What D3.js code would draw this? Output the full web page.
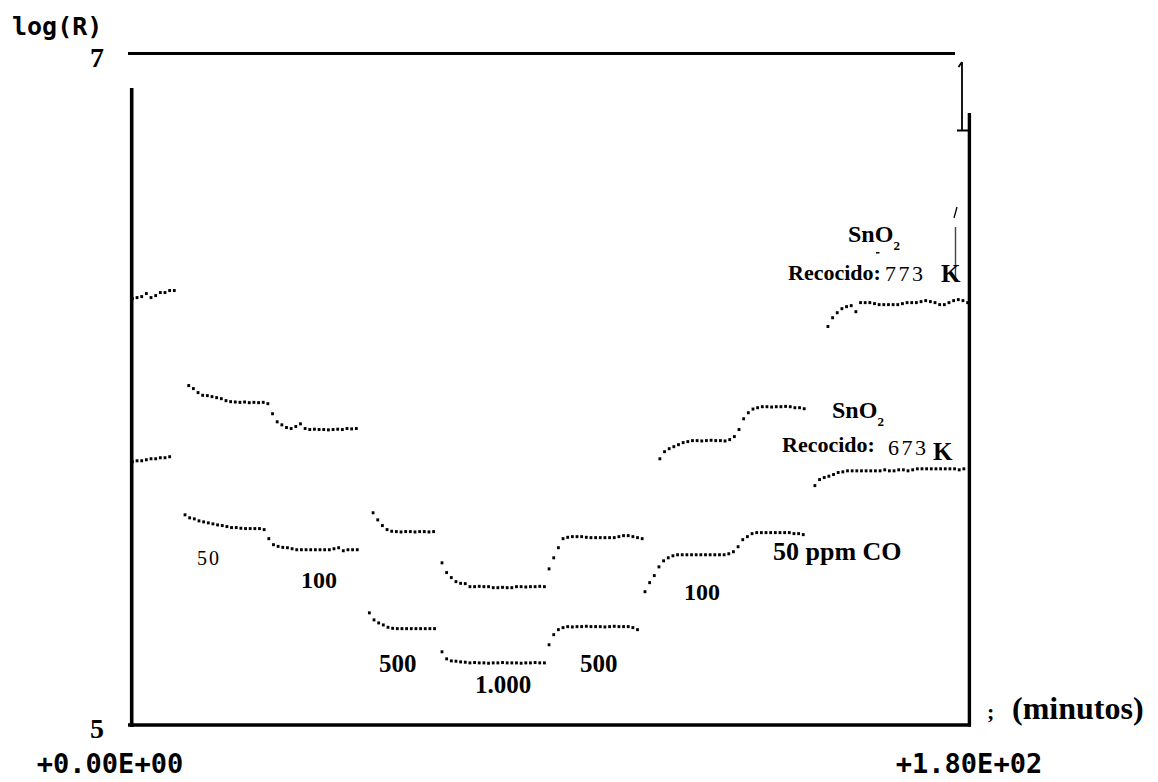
<!DOCTYPE html>
<html>
<head>
<meta charset="utf-8">
<script src="https://cdn.jsdelivr.net/npm/d3@7"></script>
<style>
  html, body { margin: 0; padding: 0; background: #fff; }
  svg { display: block; }
</style>
</head>
<body>
<svg id="chart" width="1158" height="782"></svg>
<script>
// Resistance response, log(R), of SnO2 films to CO pulses; readings every minute.
const sampleStep = 1; // minutes between readings

// Film annealed at 773 K: start time (min) of each recorded stretch
const start773 = [0.3, 12.4, 52.0, 66.8, 113.6, 149.7];
const logR773_air0 = [6.270, 6.273, 6.276, 6.285, 6.273, 6.279, 6.288, 6.288, 6.294, 6.294];
const logR773_co50_100 = [6.011, 6.002, 5.990, 5.982, 5.981, 5.978, 5.975, 5.972, 5.966, 5.963,
  5.962, 5.961, 5.962, 5.960, 5.961, 5.960, 5.961, 5.957, 5.927, 5.903,
  5.894, 5.886, 5.883, 5.889, 5.897, 5.883, 5.880, 5.881, 5.880, 5.880,
  5.879, 5.880, 5.881, 5.880, 5.883, 5.882, 5.883];
const logR773_co500 = [5.632, 5.611, 5.594, 5.582, 5.577, 5.576, 5.575, 5.576, 5.576, 5.575,
  5.576, 5.576, 5.575, 5.576];
const logR773_co1000_500 = [5.483, 5.454, 5.439, 5.427, 5.422, 5.421, 5.412, 5.412, 5.413, 5.412,
  5.412, 5.409, 5.409, 5.410, 5.409, 5.409, 5.412, 5.412, 5.411, 5.412,
  5.412, 5.413, 5.412, 5.465, 5.498, 5.528, 5.555, 5.559, 5.561, 5.561,
  5.561, 5.559, 5.558, 5.558, 5.558, 5.558, 5.558, 5.558, 5.561, 5.564,
  5.564, 5.561, 5.558, 5.555];
const logR773_co100_50 = [5.793, 5.814, 5.823, 5.829, 5.835, 5.841, 5.844, 5.847, 5.847, 5.846,
  5.847, 5.848, 5.847, 5.847, 5.846, 5.850, 5.859, 5.880, 5.912, 5.930,
  5.941, 5.945, 5.948, 5.948, 5.947, 5.948, 5.948, 5.949, 5.948, 5.945,
  5.945, 5.942];
const logR773_air1 = [6.187, 6.213, 6.228, 6.240, 6.246, 6.249, 6.231, 6.258, 6.258, 6.258,
  6.255, 6.252, 6.252, 6.252, 6.252, 6.252, 6.255, 6.258, 6.258, 6.258,
  6.261, 6.264, 6.261, 6.258, 6.252, 6.252, 6.258, 6.264, 6.267, 6.264,
  6.258];

// Film annealed at 673 K
const start673 = [0.3, 11.6, 51.2, 66.8, 110.4, 146.9];
const logR673_air0 = [5.784, 5.787, 5.787, 5.790, 5.793, 5.793, 5.796, 5.796, 5.799];
const logR673_co50_100 = [5.626, 5.617, 5.614, 5.608, 5.605, 5.602, 5.599, 5.596, 5.594, 5.591,
  5.588, 5.588, 5.586, 5.585, 5.585, 5.585, 5.585, 5.582, 5.555, 5.537,
  5.532, 5.529, 5.528, 5.525, 5.522, 5.522, 5.522, 5.522, 5.522, 5.522,
  5.522, 5.522, 5.525, 5.528, 5.519, 5.522, 5.522, 5.522];
const logR673_co500 = [5.334, 5.313, 5.304, 5.298, 5.291, 5.288, 5.287, 5.287, 5.287, 5.287,
  5.287, 5.287, 5.287, 5.287, 5.287];
const logR673_co1000_500 = [5.218, 5.197, 5.191, 5.190, 5.188, 5.187, 5.185, 5.186, 5.185, 5.185,
  5.184, 5.185, 5.185, 5.186, 5.185, 5.185, 5.185, 5.184, 5.185, 5.185,
  5.186, 5.185, 5.185, 5.239, 5.269, 5.284, 5.290, 5.293, 5.292, 5.293,
  5.293, 5.294, 5.293, 5.293, 5.293, 5.292, 5.293, 5.294, 5.293, 5.293,
  5.293, 5.290, 5.284];
const logR673_co100_50 = [5.397, 5.424, 5.445, 5.471, 5.489, 5.498, 5.504, 5.507, 5.507, 5.507,
  5.507, 5.507, 5.507, 5.507, 5.507, 5.507, 5.507, 5.507, 5.510, 5.516,
  5.531, 5.552, 5.561, 5.570, 5.573, 5.573, 5.573, 5.573, 5.573, 5.573,
  5.573, 5.573, 5.570, 5.570, 5.567];
const logR673_air1 = [5.713, 5.731, 5.737, 5.741, 5.746, 5.752, 5.754, 5.757, 5.757, 5.757,
  5.757, 5.757, 5.757, 5.757, 5.757, 5.760, 5.757, 5.757, 5.760, 5.760,
  5.757, 5.760, 5.763, 5.763, 5.763, 5.763, 5.763, 5.763, 5.763, 5.763,
  5.763, 5.760, 5.763];

// Axis extents and tick labels
const timeDomain = [0, 180];
const logRDomain = [5, 7];
const yTickLabels = ["5", "7"];
const xTickLabels = ["+0.00E+00", "+1.80E+02"];
const yAxisTitle = "log(R)";
const xAxisTitle = "(minutos)";

// Gas concentration annotations (ppm CO)
const concLabels = ["50", "100", "500", "1.000", "500", "100", "50 ppm CO"];
const filmLabels = ["673", "773"];

const svg = d3.select("#chart");
const serif = "'Liberation Serif', 'Times New Roman', serif";
const mono = "'DejaVu Sans Mono', monospace";

const x = d3.scaleLinear().domain(timeDomain).range([131, 969]);
const y = d3.scaleLinear().domain(logRDomain).range([725, 53.5]);

// Frame lines
const frame = svg.append("g").attr("stroke", "#000").attr("fill", "none");
frame.append("line").attr("x1", x(0) - 3).attr("x2", 955).attr("y1", y(7)).attr("y2", y(7)).attr("stroke-width", 3);
frame.append("line").attr("x1", x(0) + 0.7).attr("x2", x(0) + 0.7).attr("y1", 88).attr("y2", y(5) + 2).attr("stroke-width", 3.6);
frame.append("line").attr("x1", x(0) - 3).attr("x2", x(180) + 2).attr("y1", y(5)).attr("y2", y(5)).attr("stroke-width", 3.6);
frame.append("line").attr("x1", x(180) + 0.4).attr("x2", x(180) + 0.4).attr("y1", 113).attr("y2", y(5) + 1.5).attr("stroke-width", 3.4);
// small marks near the upper right corner
frame.append("path").attr("d", "M962,62 L962,130 M962,62 L958.5,67 M957,130.5 L968,130.5").attr("stroke-width", 1.8);
frame.append("path").attr("d", "M957,207 L954,218").attr("stroke-width", 1.3);
frame.append("line").attr("x1", 955.5).attr("x2", 955.5).attr("y1", 227).attr("y2", 279).attr("stroke", "#444").attr("stroke-width", 1.4);

// Axis labels
const txt = svg.append("g").attr("fill", "#000");
txt.append("text").attr("x", 12).attr("y", 35).attr("font-family", mono).attr("font-weight", "bold")
  .attr("font-size", 25).text(yAxisTitle);
txt.selectAll("text.ytick").data(yTickLabels).join("text").attr("class", "ytick")
  .attr("x", 104).attr("y", d => y(+d) + 13).attr("text-anchor", "end")
  .attr("font-family", serif).attr("font-weight", "bold").attr("font-size", 28).text(d => d);
txt.selectAll("text.xtick").data(xTickLabels).join("text").attr("class", "xtick")
  .attr("x", (d, i) => i === 0 ? x(timeDomain[0]) - 21 : x(timeDomain[1]))
  .attr("y", 773).attr("text-anchor", "middle")
  .attr("font-family", mono).attr("font-weight", "bold").attr("font-size", 27).text(d => d);
txt.append("text").attr("x", 987).attr("y", 719).attr("font-family", serif).attr("font-weight", "bold")
  .attr("font-size", 22).text(";");
txt.append("text").attr("x", 1012).attr("y", 719).attr("font-family", serif).attr("font-weight", "bold")
  .attr("font-size", 32).text(xAxisTitle);

// Dotted response traces
function drawRun(starts, runs) {
  runs.forEach((vals, i) => {
    const pts = vals.map((v, k) => ({ t: starts[i] + k * sampleStep, v }));
    svg.append("g").selectAll("rect").data(pts).join("rect")
      .attr("x", d => x(d.t) - 1.4).attr("y", d => y(d.v) - 1.5)
      .attr("width", 2.8).attr("height", 3).attr("fill", "#000");
  });
}
drawRun(start773, [logR773_air0, logR773_co50_100, logR773_co500, logR773_co1000_500, logR773_co100_50, logR773_air1]);
drawRun(start673, [logR673_air0, logR673_co50_100, logR673_co500, logR673_co1000_500, logR673_co100_50, logR673_air1]);

// Concentration annotations
const concLayout = [
  { x: 197, y: 565, size: 20, bold: false, ls: 2 },
  { x: 301, y: 588, size: 24, bold: true, ls: 0 },
  { x: 379, y: 672, size: 25, bold: true, ls: 0 },
  { x: 475, y: 693, size: 25, bold: true, ls: 0 },
  { x: 580, y: 672, size: 25, bold: true, ls: 0 },
  { x: 684, y: 600, size: 24, bold: true, ls: 0 },
  { x: 773, y: 560, size: 26, bold: true, ls: 0 }
];
concLabels.forEach((s, i) => {
  const L = concLayout[i];
  txt.append("text").attr("x", L.x).attr("y", L.y).attr("font-family", serif)
    .attr("font-weight", L.bold ? "bold" : "normal").attr("font-size", L.size)
    .attr("letter-spacing", L.ls).text(s);
});

// Film labels: SnO2, annealing temperature
function filmLabel(temp, sx, sy, rx, ry, tx, ty, kx, ky) {
  const t = txt.append("text").attr("x", sx).attr("y", sy).attr("font-family", serif)
    .attr("font-weight", "bold").attr("font-size", 24);
  t.append("tspan").text("SnO");
  t.append("tspan").attr("dy", 8).attr("font-size", 13).text("2");
  txt.append("text").attr("x", rx).attr("y", ry).attr("font-family", serif).attr("font-weight", "bold")
    .attr("font-size", 22).text("Recocido:");
  txt.append("text").attr("x", tx).attr("y", ty).attr("font-family", serif).attr("font-size", 22)
    .attr("letter-spacing", 2.5).text(temp);
  txt.append("text").attr("x", kx).attr("y", ky).attr("font-family", serif).attr("font-weight", "bold")
    .attr("font-size", 25).text("K");
}
filmLabel(filmLabels[1], 848, 242, 788, 280, 885, 281, 941, 282);
filmLabel(filmLabels[0], 832, 418, 782, 452, 888, 455, 933, 460);
txt.append("rect").attr("x", 876).attr("y", 252).attr("width", 3.5).attr("height", 1.5).attr("fill", "#000");
</script>
</body>
</html>
